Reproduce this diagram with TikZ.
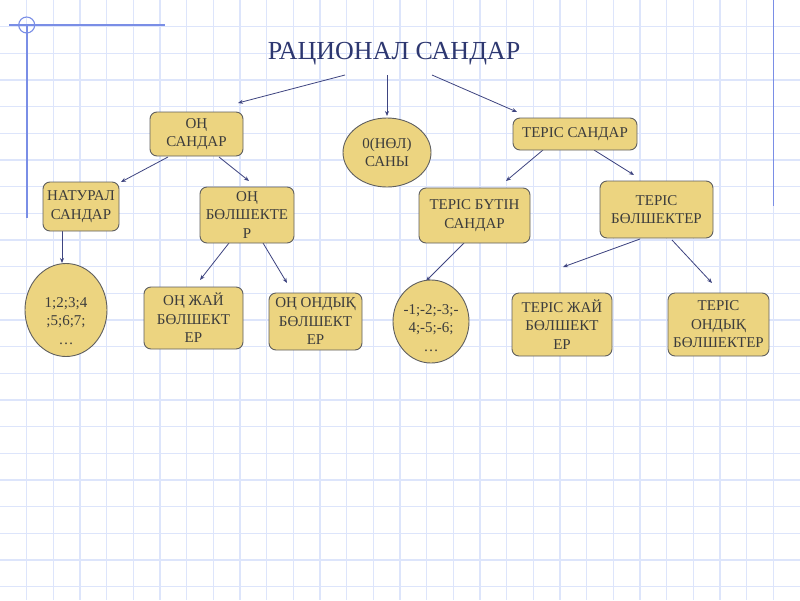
\documentclass[tikz,border=0pt]{standalone}
\usepackage{fontspec}
\setmainfont{Liberation Serif}
\usetikzlibrary{arrows.meta,shapes.geometric,calc}
\pgfdeclarelayer{grid}
\pgfdeclarelayer{edges}
\pgfsetlayers{grid,edges,main}
\definecolor{gridc}{RGB}{221,229,251}
\definecolor{marg}{RGB}{122,142,230}
\definecolor{boxfill}{RGB}{236,212,128}
\definecolor{boxline}{RGB}{95,95,95}
\definecolor{txt}{RGB}{60,60,60}
\definecolor{arrc}{RGB}{62,68,128}
\definecolor{titlec}{RGB}{45,55,112}
\tikzset{
  rbox/.style={draw=boxline, fill=boxfill, rounded corners=7pt, line width=0.9pt,
    text=txt, font=\fontsize{15}{18.5}\selectfont, align=center, inner sep=0pt},
  ebox/.style={ellipse, draw=boxline, fill=boxfill, line width=0.9pt, inner sep=0pt},
  etext/.style={text=txt, font=\fontsize{15}{18.5}\selectfont, align=center, inner sep=0pt},
  arr/.style={draw=arrc, line width=0.8pt, -{Stealth[length=5pt,width=4pt]}},
  gridline/.style={draw=gridc, line width=1.3pt},
  margline/.style={draw=marg, line width=1.6pt}
}
\begin{document}
\begin{tikzpicture}[x=1pt,y=-1pt]
\useasboundingbox (0,0) rectangle (800,600);
\begin{pgfonlayer}{grid}
  \fill[white] (0,0) rectangle (800,600);
  \foreach \i in {1,...,29} { \draw[gridline] (\i*26.667,0) -- (\i*26.667,600); }
  \foreach \j in {1,...,22} { \draw[gridline] (0,\j*26.667) -- (800,\j*26.667); }
  \draw[margline] (26.7,25) -- (26.7,218);
  \draw[margline] (9,25) -- (165,25);
  \draw[marg, line width=1.1pt] (26.7,25) circle (8);
  \draw[margline] (773.3,0) -- (773.3,206);
\end{pgfonlayer}

\node[text=titlec, font=\fontsize{26}{30}\selectfont, inner sep=0pt] (title) at (394,54) {РАЦИОНАЛ САНДАР};

\node[rbox, minimum width=93, minimum height=44] (on) at (196.5,134) {ОҢ\\САНДАР};
\node[ebox, minimum width=88, minimum height=69, etext] (zero) at (387,152.5) {0(НӨЛ)\\САНЫ};
\node[rbox, minimum width=124, minimum height=32] (ter) at (575,134) {ТЕРІС САНДАР};
\node[rbox, minimum width=76, minimum height=49] (nat) at (81,206.5) {НАТУРАЛ\\САНДАР};
\node[rbox, minimum width=94, minimum height=56] (onb) at (247,215) {ОҢ\\БӨЛШЕКТЕ\\Р};
\node[rbox, minimum width=111, minimum height=55] (terbut) at (474.5,215.5) {ТЕРІС БҮТІН\\САНДАР};
\node[rbox, minimum width=113, minimum height=57] (terb) at (656.5,209.5) {ТЕРІС\\БӨЛШЕКТЕР};
\node[ebox, minimum width=82, minimum height=93] (natel) at (66,310) {};
\node[etext] (nateltext) at (66,321) {1;2;3;4\\;5;6;7;\\…};
\node[rbox, minimum width=99, minimum height=62] (onjai) at (193.5,318) {ОҢ ЖАЙ\\БӨЛШЕКТ\\ЕР};
\node[rbox, minimum width=93, minimum height=57] (onond) at (315.5,321.5) {ОҢ ОНДЫҚ\\БӨЛШЕКТ\\ЕР};
\node[ebox, minimum width=76, minimum height=83] (terel) at (431,321.5) {};
\node[etext] (tereltext) at (431,328) {-1;-2;-3;-\\4;-5;-6;\\…};
\node[rbox, minimum width=100, minimum height=63] (terjai) at (562,324.5) {ТЕРІС ЖАЙ\\БӨЛШЕКТ\\ЕР};
\node[rbox, minimum width=101, minimum height=63] (terond) at (718.5,324.5) {ТЕРІС\\ОНДЫҚ\\БӨЛШЕКТЕР};

% connector ends
\coordinate (t1) at (345,75);   \coordinate (t1e) at (238,103);
\coordinate (t2) at (387,75);   \coordinate (t2e) at (387,116);
\coordinate (t3) at (432,75);   \coordinate (t3e) at (517,112);
\coordinate (o1) at (168,157);  \coordinate (o1e) at (121,182);
\coordinate (o2) at (219,157);  \coordinate (o2e) at (249,181);
\coordinate (n1) at (62,231);   \coordinate (n1e) at (62,263);
\coordinate (b1) at (229,243);  \coordinate (b1e) at (200,280);
\coordinate (b2) at (263,243);  \coordinate (b2e) at (287,283);
\coordinate (s1) at (543,150);  \coordinate (s1e) at (506,181);
\coordinate (s2) at (594,150);  \coordinate (s2e) at (634,175);
\coordinate (u1) at (464,243);  \coordinate (u1e) at (426,281);
\coordinate (f1) at (640,239);  \coordinate (f1e) at (563,267);
\coordinate (f2) at (672,240);  \coordinate (f2e) at (712,283);

\begin{pgfonlayer}{edges}
  \draw[arr] (t1) -- (t1e);
  \draw[arr] (t2) -- (t2e);
  \draw[arr] (t3) -- (t3e);
  \draw[arr] (o1) -- (o1e);
  \draw[arr] (o2) -- (o2e);
  \draw[arr] (n1) -- (n1e);
  \draw[arr] (b1) -- (b1e);
  \draw[arr] (b2) -- (b2e);
  \draw[arr] (s1) -- (s1e);
  \draw[arr] (s2) -- (s2e);
  \draw[arr] (u1) -- (u1e);
  \draw[arr] (f1) -- (f1e);
  \draw[arr] (f2) -- (f2e);
\end{pgfonlayer}
\end{tikzpicture}
\end{document}
